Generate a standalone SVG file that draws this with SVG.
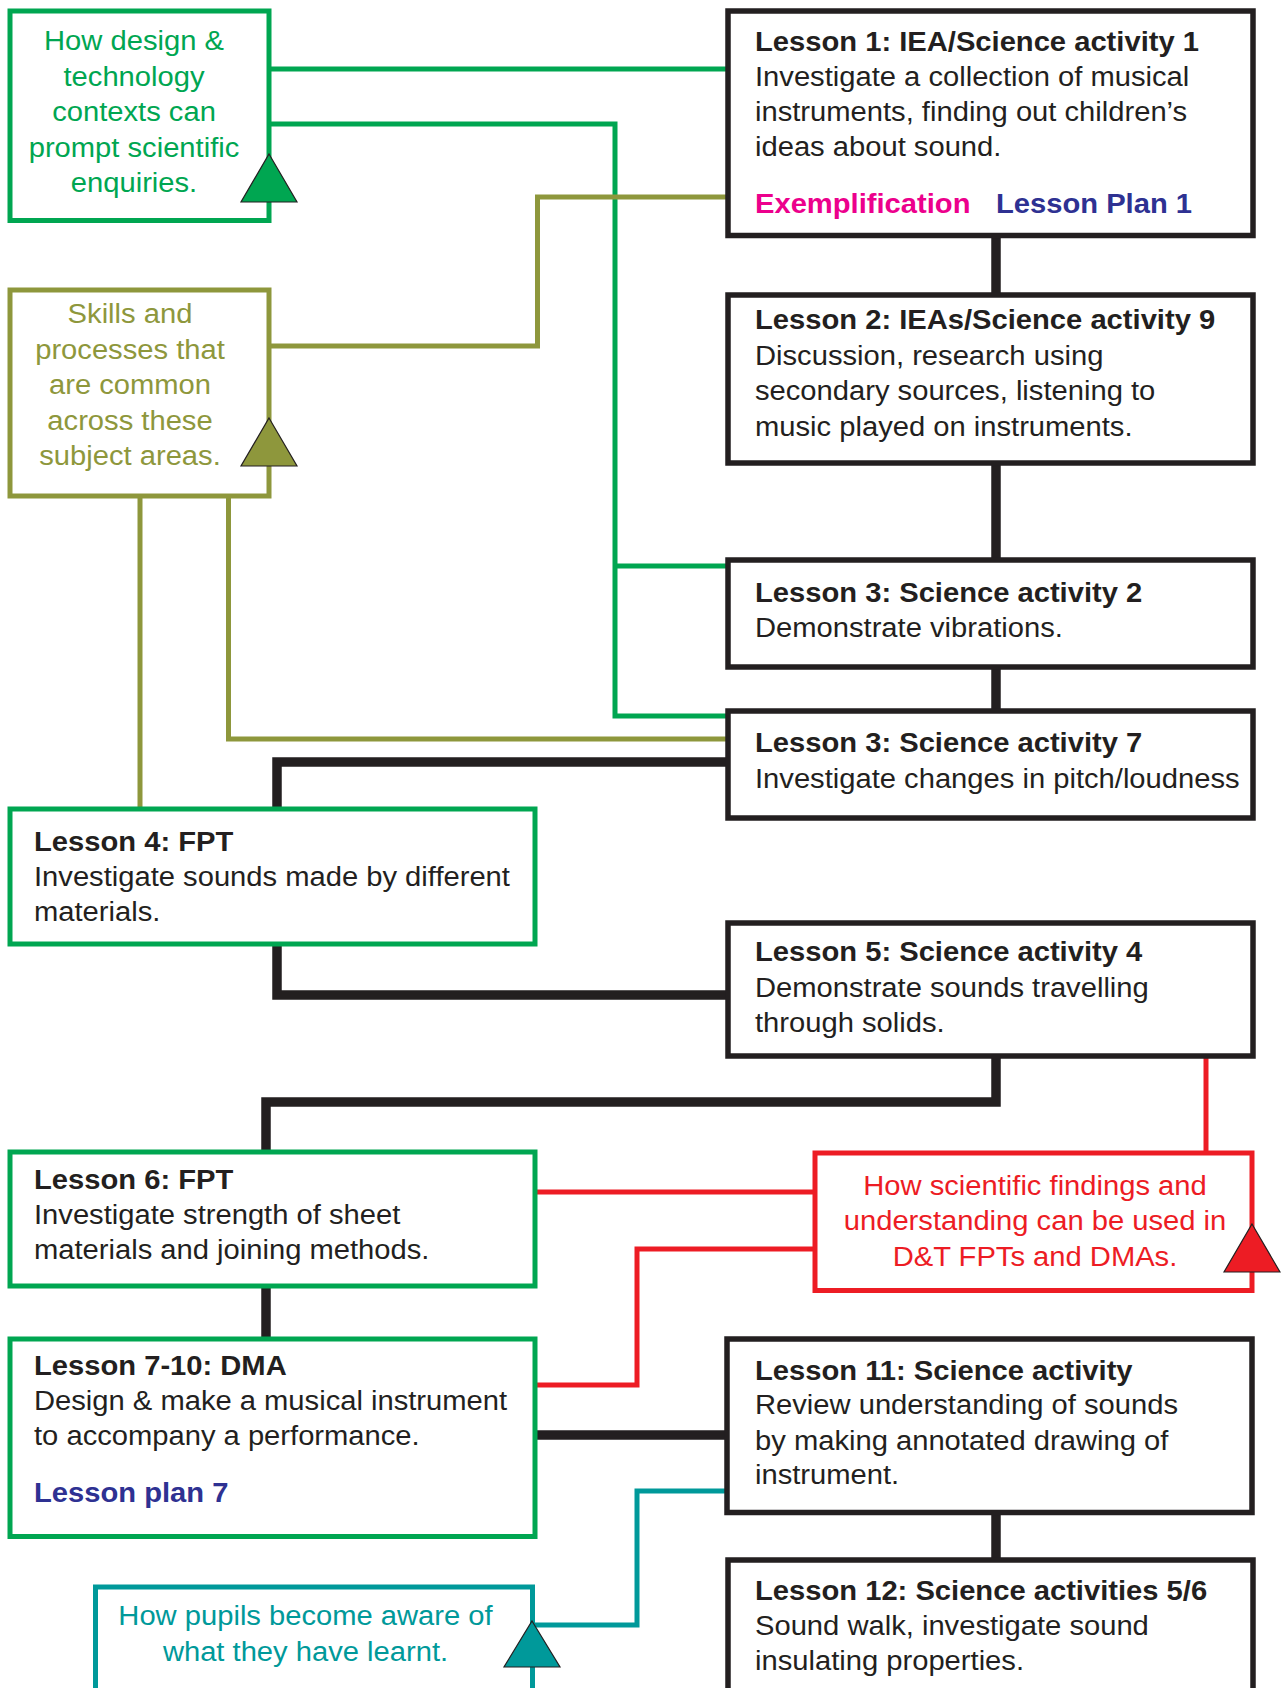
<svg xmlns="http://www.w3.org/2000/svg" width="1281" height="1688" viewBox="0 0 1281 1688">
<style>
text{font-family:"Liberation Sans",Arial,Helvetica,sans-serif;font-size:27px;fill:#231f20}
.b{font-weight:bold}
.c{text-anchor:middle}
.box{fill:#fff;stroke:#231f20;stroke-width:5.5}
.gbox{fill:#fff;stroke:#00a651;stroke-width:5}
.obox{fill:#fff;stroke:#8e973c;stroke-width:5}
.rbox{fill:#fff;stroke:#ed1c24;stroke-width:5}
.tbox{fill:#fff;stroke:#00999a;stroke-width:5}
.k{fill:none;stroke:#231f20;stroke-width:9.5}
.g{fill:none;stroke:#00a651;stroke-width:5}
.o{fill:none;stroke:#8e973c;stroke-width:5}
.r{fill:none;stroke:#ed1c24;stroke-width:5}
.t{fill:none;stroke:#00999a;stroke-width:5}
.tri{stroke:#231f20;stroke-width:1.2}
.gt{fill:#00a651}.ot{fill:#8e973c}.rt{fill:#ed1c24}.tt{fill:#00999a}
.mg{fill:#ec008c}.nv{fill:#2e3192}
</style>
<rect width="1281" height="1688" fill="#fff"/>
<g id="connectors">
<path class="k" d="M996,235 V295"/>
<path class="k" d="M996,463 V560"/>
<path class="k" d="M996,667 V711"/>
<path class="k" d="M728,762 H277 V809"/>
<path class="k" d="M277,944 V995 H728"/>
<path class="k" d="M996,1056 V1102 H266 V1152"/>
<path class="k" d="M266,1286 V1339"/>
<path class="k" d="M535,1435 H727"/>
<path class="k" d="M996,1512 V1560"/>
<path class="g" d="M269,69 H728"/>
<path class="g" d="M269,124 H615 V716 H728"/>
<path class="g" d="M615,566 H728"/>
<path class="o" d="M728,197 H537.5 V346 H269"/>
<path class="o" d="M140,497 V809"/>
<path class="o" d="M228.5,497 V739 H728"/>
<path class="r" d="M1206,1056 V1153"/>
<path class="r" d="M535,1192 H815"/>
<path class="r" d="M815,1249 H637 V1385 H535"/>
<path class="t" d="M727,1491 H637 V1625 H533"/>
</g>
<g id="design-technology">
<rect class="gbox" x="10" y="11" width="259" height="209.5"/>
<text class="gt c" transform="translate(134 0) scale(1.08 1)"><tspan x="0" y="50.5">How design &amp;</tspan><tspan x="0" y="86">technology</tspan><tspan x="0" y="121.5">contexts can</tspan><tspan x="0" y="157">prompt scientific</tspan><tspan x="0" y="192.5">enquiries.</tspan></text>
<polygon class="tri gt" points="269,154 297,202 241,202"/>
</g>
<g id="skills-processes">
<rect class="obox" x="10" y="290" width="259" height="206"/>
<text class="ot c" transform="translate(130 0) scale(1.08 1)"><tspan x="0" y="323.5">Skills and</tspan><tspan x="0" y="359">processes that</tspan><tspan x="0" y="394.5">are common</tspan><tspan x="0" y="430">across these</tspan><tspan x="0" y="465.5">subject areas.</tspan></text>
<polygon class="tri ot" points="269,418 297,466 241,466"/>
</g>
<g id="lesson1">
<rect class="box" x="728" y="11" width="525" height="224.5"/>
<text transform="translate(755 0) scale(1.08 1)"><tspan class="b" x="0" y="51">Lesson 1: IEA/Science activity 1</tspan><tspan x="0" y="86">Investigate a collection of musical</tspan><tspan x="0" y="121">instruments, finding out children’s</tspan><tspan x="0" y="156.5">ideas about sound.</tspan><tspan class="b mg" x="0" y="213">Exemplification</tspan></text>
<text class="b nv" transform="translate(996 0) scale(1.08 1)" x="0" y="213">Lesson Plan 1</text>
</g>
<g id="lesson2">
<rect class="box" x="728" y="295" width="525" height="168"/>
<text transform="translate(755 0) scale(1.08 1)"><tspan class="b" x="0" y="329.5">Lesson 2: IEAs/Science activity 9</tspan><tspan x="0" y="365">Discussion, research using</tspan><tspan x="0" y="400.5">secondary sources, listening to</tspan><tspan x="0" y="436">music played on instruments.</tspan></text>
</g>
<g id="lesson3a">
<rect class="box" x="728" y="560" width="525" height="107"/>
<text transform="translate(755 0) scale(1.08 1)"><tspan class="b" x="0" y="601.7">Lesson 3: Science activity 2</tspan><tspan x="0" y="637">Demonstrate vibrations.</tspan></text>
</g>
<g id="lesson3b">
<rect class="box" x="728" y="711" width="525" height="107"/>
<text transform="translate(755 0) scale(1.08 1)"><tspan class="b" x="0" y="752">Lesson 3: Science activity 7</tspan><tspan x="0" y="788">Investigate changes in pitch/loudness</tspan></text>
</g>
<g id="lesson4">
<rect class="gbox" x="10" y="809" width="525" height="135"/>
<text transform="translate(34 0) scale(1.08 1)"><tspan class="b" x="0" y="851">Lesson 4: FPT</tspan><tspan x="0" y="886">Investigate sounds made by different</tspan><tspan x="0" y="921">materials.</tspan></text>
</g>
<g id="lesson5">
<rect class="box" x="728" y="923" width="525" height="133"/>
<text transform="translate(755 0) scale(1.08 1)"><tspan class="b" x="0" y="961.5">Lesson 5: Science activity 4</tspan><tspan x="0" y="997">Demonstrate sounds travelling</tspan><tspan x="0" y="1032">through solids.</tspan></text>
</g>
<g id="lesson6">
<rect class="gbox" x="10" y="1152" width="525" height="134"/>
<text transform="translate(34 0) scale(1.08 1)"><tspan class="b" x="0" y="1189">Lesson 6: FPT</tspan><tspan x="0" y="1224">Investigate strength of sheet</tspan><tspan x="0" y="1259">materials and joining methods.</tspan></text>
</g>
<g id="scientific-findings">
<rect class="rbox" x="815" y="1153" width="437" height="137.5"/>
<text class="rt c" transform="translate(1035 0) scale(1.08 1)"><tspan x="0" y="1195.5">How scientific findings and</tspan><tspan x="0" y="1230.5">understanding can be used in</tspan><tspan x="0" y="1266">D&amp;T FPTs and DMAs.</tspan></text>
<polygon class="tri rt" points="1252,1224 1280,1272 1224,1272"/>
</g>
<g id="lesson7-10">
<rect class="gbox" x="10" y="1339" width="525" height="197.5"/>
<text transform="translate(34 0) scale(1.08 1)"><tspan class="b" x="0" y="1375">Lesson 7-10: DMA</tspan><tspan x="0" y="1410">Design &amp; make a musical instrument</tspan><tspan x="0" y="1445">to accompany a performance.</tspan><tspan class="b nv" x="0" y="1502">Lesson plan 7</tspan></text>
</g>
<g id="lesson11">
<rect class="box" x="727" y="1339" width="525" height="173.5"/>
<text transform="translate(755 0) scale(1.08 1)"><tspan class="b" x="0" y="1380">Lesson 11: Science activity</tspan><tspan x="0" y="1414.5">Review understanding of sounds</tspan><tspan x="0" y="1450">by making annotated drawing of</tspan><tspan x="0" y="1484.5">instrument.</tspan></text>
</g>
<g id="lesson12">
<rect class="box" x="728" y="1560" width="525" height="160"/>
<text transform="translate(755 0) scale(1.08 1)"><tspan class="b" x="0" y="1600">Lesson 12: Science activities 5/6</tspan><tspan x="0" y="1635">Sound walk, investigate sound</tspan><tspan x="0" y="1670.5">insulating properties.</tspan></text>
</g>
<g id="pupils-aware">
<rect class="tbox" x="95.5" y="1587" width="437" height="140"/>
<text class="tt c" transform="translate(305.5 0) scale(1.08 1)"><tspan x="0" y="1625.5">How pupils become aware of</tspan><tspan x="0" y="1661">what they have learnt.</tspan></text>
<polygon class="tri tt" points="532,1621 560,1667 504,1667"/>
</g>
</svg>
